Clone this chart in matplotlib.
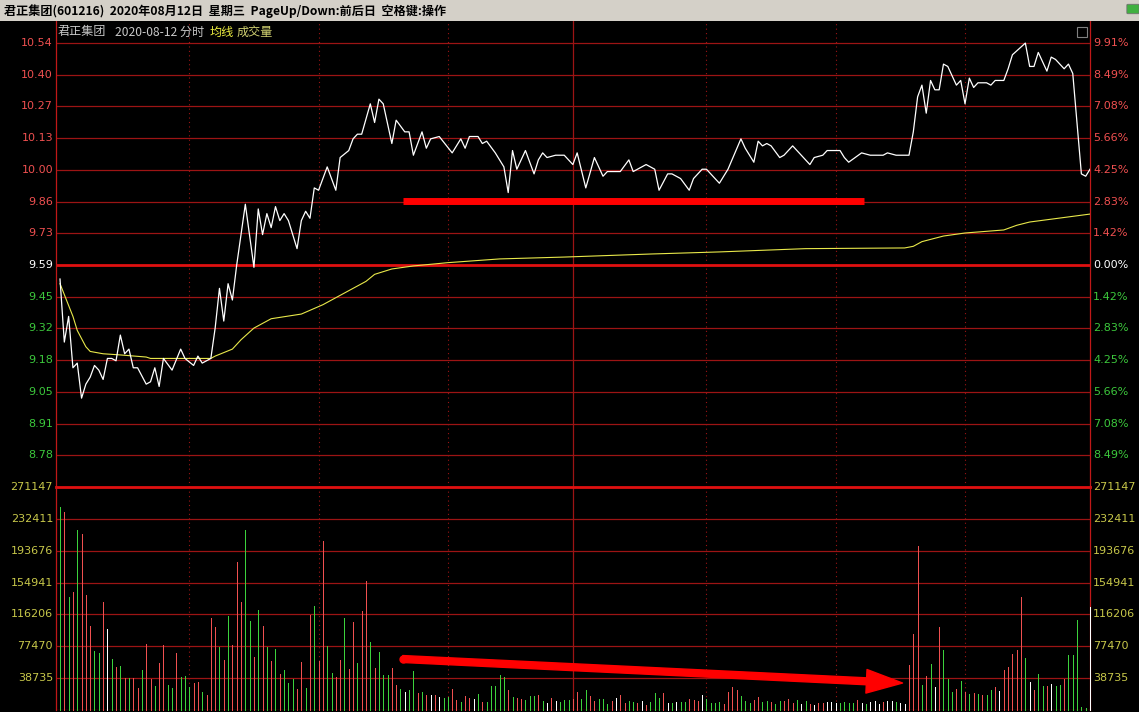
import matplotlib
matplotlib.use("Agg")
import matplotlib.pyplot as plt
from matplotlib.patches import Rectangle, FancyArrowPatch, FancyBboxPatch
from matplotlib.transforms import offset_copy

# ---------------- data ----------------
stock_name = "君正集团"
stock_code = "601216"
prev_close = 9.59

price_labels = ["10.54", "10.40", "10.27", "10.13", "10.00", "9.86", "9.73",
                "9.59", "9.45", "9.32", "9.18", "9.05", "8.91", "8.78"]
pct_levels = [9.91, 8.49, 7.08, 5.66, 4.25, 2.83, 1.42,
              0.00, -1.42, -2.83, -4.25, -5.66, -7.08, -8.49]
pct_labels = ["9.91%", "8.49%", "7.08%", "5.66%", "4.25%", "2.83%", "1.42%",
              "0.00%", "1.42%", "2.83%", "4.25%", "5.66%", "7.08%", "8.49%"]
vol_ticks = [38735, 77470, 116206, 154941, 193676, 232411, 271147]

# minute index (0..239) and price of the intraday line
price_minute = [0, 1, 2, 3, 4, 5, 6, 7, 8, 9, 10, 11, 12, 13, 14, 15, 16, 17, 18, 20,
                21, 22, 23, 24, 26, 28, 29, 31, 32, 33, 35, 36, 37, 38, 39, 40, 41, 43,
                45, 46, 47, 48, 49, 50, 51, 52, 53, 55, 56, 57, 58, 59, 60, 62, 64, 65,
                67, 68, 69, 70, 72, 73, 74, 75, 77, 78, 80, 81, 82, 84, 85, 86, 88, 91,
                93, 94, 95, 97, 98, 99, 101, 103, 104, 105, 106, 108, 110, 111, 112, 113,
                115, 117, 119, 120, 122, 124, 126, 127, 130, 132, 133, 136, 138, 139,
                141, 142, 144, 146, 147, 149, 150, 151, 153, 155, 158, 159, 161, 162,
                163, 164, 165, 167, 168, 170, 172, 174, 175, 177, 178, 181, 182, 183,
                186, 188, 191, 192, 194, 197, 198, 199, 200, 201, 202, 203, 204, 205,
                206, 208, 209, 210, 211, 212, 213, 214, 215, 216, 217, 219, 220, 221,
                224, 225, 226, 227, 228, 229, 230, 231, 233, 234, 235, 237, 238, 239]
price_value = [9.53, 9.26, 9.37, 9.15, 9.17, 9.02, 9.08, 9.11, 9.16, 9.14, 9.10, 9.19,
               9.19, 9.18, 9.29, 9.21, 9.23, 9.15, 9.15, 9.08, 9.09, 9.15, 9.07, 9.19,
               9.14, 9.23, 9.19, 9.16, 9.20, 9.17, 9.19, 9.32, 9.49, 9.35, 9.51, 9.44,
               9.59, 9.85, 9.58, 9.83, 9.72, 9.81, 9.75, 9.84, 9.78, 9.81, 9.78, 9.66,
               9.78, 9.82, 9.79, 9.92, 9.91, 10.01, 9.91, 10.05, 10.08, 10.13, 10.15,
               10.15, 10.28, 10.20, 10.30, 10.28, 10.11, 10.21, 10.16, 10.16, 10.06,
               10.16, 10.09, 10.13, 10.14, 10.07, 10.13, 10.09, 10.14, 10.14, 10.11,
               10.12, 10.07, 10.01, 9.90, 10.08, 10.00, 10.08, 9.98, 10.04, 10.07, 10.05,
               10.06, 10.06, 10.02, 10.07, 9.92, 10.05, 9.97, 9.99, 9.99, 10.04, 9.99,
               10.02, 10.00, 9.91, 9.98, 9.98, 9.96, 9.91, 9.96, 10.00, 10.00, 9.98,
               9.94, 10.00, 10.13, 10.09, 10.03, 10.12, 10.10, 10.11, 10.10, 10.05,
               10.06, 10.10, 10.06, 10.02, 10.05, 10.06, 10.08, 10.08, 10.05, 10.03,
               10.07, 10.06, 10.06, 10.07, 10.06, 10.06, 10.16, 10.31, 10.36, 10.24,
               10.38, 10.34, 10.34, 10.45, 10.44, 10.36, 10.38, 10.28, 10.39, 10.35,
               10.37, 10.37, 10.37, 10.36, 10.38, 10.38, 10.43, 10.49, 10.54, 10.44,
               10.44, 10.50, 10.46, 10.42, 10.48, 10.47, 10.43, 10.45, 10.41, 9.98,
               9.97, 10.00]

# average price line (均线)
avg_minute = [0, 3, 4, 6, 7, 10, 14, 20, 21, 31, 35, 36, 40, 42, 45, 49, 56, 61, 65,
              71, 73, 77, 82, 90, 102, 117, 137, 153, 173, 196, 198, 200, 205, 210,
              219, 222, 225, 239]
avg_value = [9.51, 9.37, 9.31, 9.24, 9.22, 9.21, 9.205, 9.196, 9.19, 9.19, 9.19, 9.20,
             9.23, 9.27, 9.32, 9.36, 9.38, 9.42, 9.46, 9.52, 9.55, 9.573, 9.586, 9.60,
             9.616, 9.624, 9.637, 9.646, 9.66, 9.663, 9.67, 9.69, 9.714, 9.727, 9.74,
             9.76, 9.774, 9.808]

# volume per minute (成交量) and bar colour: r = up, g = down, w = unchanged
volume = [246840, 240790, 137090, 143990, 219010, 214170, 140360, 102000, 71390, 69330,
          131890, 98010, 61710, 52390, 53240, 39080, 39080, 39080, 26980, 48400,
          79860, 37510, 29040, 57230, 78650, 30250, 26980, 69330, 39570, 41140,
          27830, 33030, 34240, 22140, 18150, 111680, 100790, 76590, 60500, 114100,
          78650, 179440, 131890, 218650, 107690, 64490, 121000, 102000, 76590, 59290,
          73810, 43560, 48400, 32310, 37510, 25410, 58440, 26260, 114950, 126200,
          59290, 205700, 77800, 44410, 40290, 60500, 111680, 49610, 106840, 57230,
          119790, 156450, 82640, 51180, 70540, 42350, 42350, 51670, 30250, 25410,
          21420, 24200, 47550, 20570, 21420, 18150, 18150, 18150, 16090, 14160,
          15370, 25410, 12100, 9320, 16940, 14160, 13310, 19360, 9320, 9320,
          29040, 29040, 42350, 39570, 24200, 15370, 14160, 13310, 12100, 16940,
          16940, 18150, 11250, 8110, 14160, 11250, 9320, 12100, 12100, 13310,
          22140, 13310, 24200, 16940, 11250, 13310, 13310, 7260, 11250, 14160,
          18150, 8110, 11250, 9320, 8110, 11250, 6050, 9320, 20210, 14160,
          20210, 8110, 8110, 9320, 9320, 10040, 13310, 12100, 11250, 18150,
          13310, 8110, 8830, 10040, 7260, 22140, 28190, 24200, 17300, 11250,
          8830, 12100, 16090, 10040, 10890, 10040, 7260, 10890, 10890, 13310,
          8830, 12100, 7260, 10890, 7260, 6050, 8110, 8830, 9680, 9680,
          8830, 8830, 9320, 8830, 8110, 12100, 8830, 6900, 9320, 10890,
          7260, 9320, 10890, 10890, 9320, 8110, 7260, 54450, 92810, 199650,
          30250, 41500, 55660, 28190, 100790, 72600, 37510, 22140, 25410, 35090,
          21420, 19360, 20930, 19360, 18150, 18150, 24200, 28190, 22990, 48400,
          52390, 67760, 72600, 137940, 63280, 33880, 24200, 43560, 29040, 29040,
          31460, 29040, 30250, 37150, 66550, 66550, 108900, 3990, 2420, 125840]
vol_dir = "".join([
    "grgrgrrrgg", "rwgrgrgrrg", "rrgrrggrgg", "grrgrrrgrg", "rrrggrgrgr",
    "grgggrrgrg", "rrggrrgrrg", "rrgrgggrrg", "wggrgrwrwg", "grrgrrwgrg",
    "ggggrgrrgg", "grgwrwgggr", "rggrrgggrw", "rrggrwrggg", "rwgwggrrrw",
    "ggggrrrrgg", "grrggrggrr", "rgwgrwrrww", "wggggrwgww", "wrwwgwwrrr",
    "grgwrgggrg", "rgrgrggrwr", "rrrrgwrggr", "wggrgggggw"])

# hand-drawn annotations
flat_band_minutes = [79.5, 186.5]
flat_band_price = 9.865
arrow_tail = (79.5, 62000)
arrow_head = (195.5, 32800)

# ---------------- layout ----------------
W, H, DPI = 1139, 712, 100
CJK = ["Noto Sans CJK SC", "DejaVu Sans"]
RED_TXT = "#f05050"
GRN_TXT = "#3cc83c"
YEL_TXT = "#c8c84a"
GRID = "#9c1414"
AXIS = "#c01818"

fig = plt.figure(figsize=(W / DPI, H / DPI), dpi=DPI, facecolor="black")


def fy(px):
    return 1 - px / H


left_px, right_px = 56, 1090
ax = fig.add_axes([left_px / W, fy(487), (right_px - left_px) / W, (487 - 21) / H])
axv = fig.add_axes([left_px / W, fy(710), (right_px - left_px) / W, (710 - 487) / H])

lo = prev_close * (1 - 0.0991)
hi_grid = prev_close * (1 + 0.0991)
top = hi_grid + 22 * (hi_grid - lo) / 444
for a in (ax, axv):
    a.set_facecolor("black")
    a.set_xlim(-0.93, 239)
    a.set_xticks([])
    a.set_yticks([])
    for s in ("top", "bottom"):
        a.spines[s].set_visible(False)
    for s in ("left", "right"):
        a.spines[s].set_color(AXIS)
        a.spines[s].set_linewidth(0.9)
ax.set_ylim(lo, top)
axv.set_ylim(0, vol_ticks[-1])

# vertical time grid
for a in (ax, axv):
    for m in (30, 60, 90, 150, 180, 210):
        a.axvline(m, color=GRID, lw=0.8, ls=(0, (1, 3)), zorder=1)
    a.axvline(119, color=GRID, lw=0.9, zorder=1)

# price grid + labels
lt = offset_copy(ax.get_yaxis_transform(), fig=fig, x=-3, y=0, units="dots")
rt = offset_copy(ax.get_yaxis_transform(), fig=fig, x=3, y=0, units="dots")
for lab, pct, plab in zip(price_labels, pct_levels, pct_labels):
    yv = prev_close * (1 + pct / 100)
    if pct == 0:
        ax.axhline(yv, color="#e01010", lw=2.0, zorder=1)
        col = "white"
    else:
        ax.axhline(yv, color=GRID, lw=0.9, zorder=1)
        col = RED_TXT if pct > 0 else GRN_TXT
    ax.text(0, yv, lab, transform=lt, ha="right", va="center", fontsize=8,
            color=col, family="DejaVu Sans")
    ax.text(1, yv, plab, transform=rt, ha="left", va="center", fontsize=8,
            color=col, family="DejaVu Sans")

# volume grid + labels
vlt = offset_copy(axv.get_yaxis_transform(), fig=fig, x=-3, y=0, units="dots")
vrt = offset_copy(axv.get_yaxis_transform(), fig=fig, x=3, y=0, units="dots")
for v in vol_ticks:
    if v == vol_ticks[-1]:
        axv.axhline(v, color="#e01010", lw=2.0, zorder=1, clip_on=False)
    else:
        axv.axhline(v, color=GRID, lw=0.9, zorder=1)
    axv.text(0, v, str(v), transform=vlt, ha="right", va="center", fontsize=8,
             color=YEL_TXT, family="DejaVu Sans")
    axv.text(1, v, str(v), transform=vrt, ha="left", va="center", fontsize=8,
             color=YEL_TXT, family="DejaVu Sans")
axv.axhline(0, color=GRID, lw=0.9, zorder=1)

# lines
ax.plot(price_minute, price_value, color="white", lw=0.9, zorder=4)
ax.plot(avg_minute, avg_value, color="#e8e84a", lw=0.8, zorder=3)

# volume bars
cmap = {"r": "#f05050", "g": "#3cd23c", "w": "#ffffff"}
bar_cols = [cmap[c] for c in vol_dir]
axv.vlines(range(len(volume)), 0, volume, colors=bar_cols, lw=0.55,
           antialiased=False, zorder=3, clip_on=False)

# annotations
ax.plot(flat_band_minutes, [flat_band_price] * 2, color="#ff0000", lw=5,
        solid_capstyle="butt", zorder=6)
arr = FancyArrowPatch(arrow_tail, arrow_head,
                      arrowstyle="simple,head_length=26,head_width=17,tail_width=5",
                      mutation_scale=1, color="#ff0000", shrinkA=0, shrinkB=0,
                      zorder=6)
axv.add_patch(arr)
axv.plot([arrow_tail[0]], [arrow_tail[1]], "o", ms=5, color="#ff0000", zorder=6)

# title bar
fig.patches.append(Rectangle((0, fy(21)), 1, 21 / H, transform=fig.transFigure,
                             facecolor="#d4d0c8", edgecolor="none", zorder=0))
fig.text(4 / W, fy(11), f"{stock_name}({stock_code})  2020年08月12日  星期三  PageUp/Down:前后日  空格键:操作",
         fontsize=8.7, fontweight="bold", family=CJK, color="black",
         ha="left", va="center")
fig.patches.append(FancyBboxPatch((1128 / W, fy(13)), 10 / W, 8 / H,
                                  boxstyle="round,pad=0.001", transform=fig.transFigure,
                                  facecolor="#40b040", edgecolor="#707070", lw=0.6))
fig.patches.append(Rectangle((1077 / W, fy(37)), 10 / W, 10 / H, transform=fig.transFigure,
                             facecolor="none", edgecolor="#808080", lw=0.8))

# legend header
fig.text(58 / W, fy(32), stock_name, fontsize=8.7, family=CJK, color="#c8c8c8",
         ha="left", va="center")
fig.text(115 / W, fy(32), "2020-08-12 分时", fontsize=8.7, family=CJK, color="#c8c8c8",
         ha="left", va="center")
fig.text(210 / W, fy(32), "均线", fontsize=8.7, family=CJK, color="#f0f040",
         ha="left", va="center")
fig.text(237 / W, fy(32), "成交量", fontsize=8.7, family=CJK, color="#d0d070",
         ha="left", va="center")

fig.savefig("out.png", dpi=DPI, facecolor="black")
